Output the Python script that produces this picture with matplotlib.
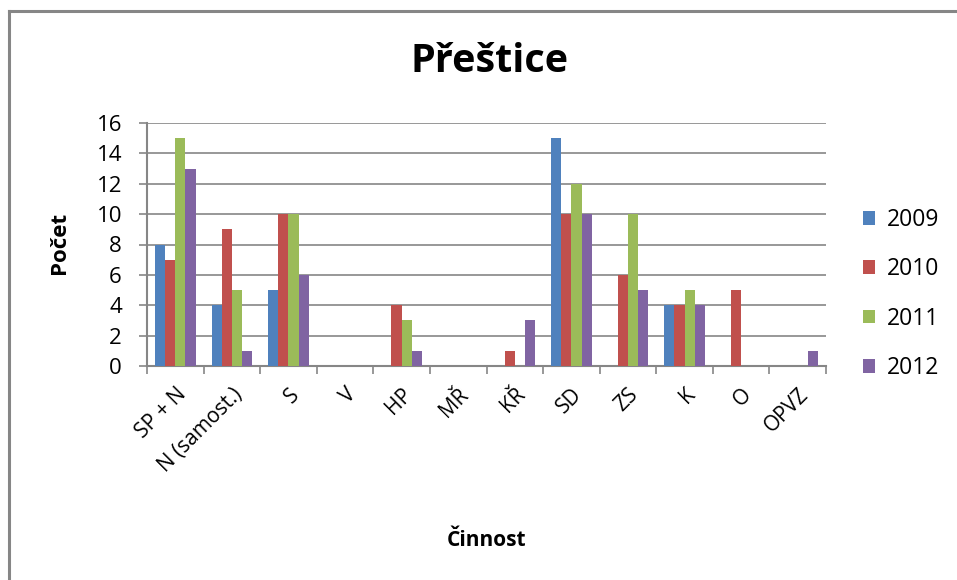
import matplotlib
matplotlib.use("Agg")
import matplotlib.pyplot as plt
import numpy as np
from matplotlib.lines import Line2D

plt.rcParams['font.family'] = ['Open Sans', 'DejaVu Sans']

categories = ["SP + N", "N (samost.)", "S", "V", "HP", "MŘ", "KŘ", "SD", "ZS", "K", "O", "OPVZ"]
years = ["2009", "2010", "2011", "2012"]
v2009 = [8, 4, 5, 0, 0, 0, 0, 15, 0, 4, 0, 0]
v2010 = [7, 9, 10, 0, 4, 0, 1, 10, 6, 4, 5, 0]
v2011 = [15, 5, 10, 0, 3, 0, 0, 12, 10, 5, 0, 0]
v2012 = [13, 1, 6, 0, 1, 0, 3, 10, 5, 4, 0, 1]
series = [v2009, v2010, v2011, v2012]
colors = ["#4F81BD", "#C0504D", "#9BBB59", "#8064A2"]

fig = plt.figure(figsize=(9.57, 5.8), dpi=100)
ax = fig.add_axes([147/957, 1-366/580, (826-147)/957, (366-123)/580])

x = np.arange(len(categories))
w = 0.18
for i, (vals, c, lab) in enumerate(zip(series, colors, years)):
    ax.bar(x + (i - 1.5) * w, vals, width=w, color=c, label=lab, zorder=3)

ax.set_xlim(-0.5, len(categories) - 0.5)
ax.set_ylim(0, 16)
ax.set_yticks(np.arange(0, 17, 2))
ax.yaxis.grid(True, color="#868686", linewidth=1.2, zorder=0)
ax.set_xticks(np.arange(-0.5, len(categories), 1.0))
ax.set_xticklabels([])
ax.set_xticks(x, minor=True)
ax.set_xticklabels(categories, minor=True, rotation=45, ha='right', rotation_mode='anchor', fontsize=15)
ax.tick_params(axis='x', which='minor', length=0, pad=13)
ax.tick_params(axis='x', which='major', length=6, color="#868686", width=1.2)
ax.tick_params(axis='y', length=6, color="#868686", width=1.2, labelsize=16, pad=12)
for s in ["top", "right"]:
    ax.spines[s].set_visible(False)
for s in ["left", "bottom"]:
    ax.spines[s].set_color("#868686")
    ax.spines[s].set_linewidth(1.5)

fig.text(60/957, 1-243/580, "Počet", fontsize=16, fontweight='bold', ha='center', va='center', rotation=90)
fig.text(487/957, 1-540/580, "Činnost", fontsize=15, fontweight='bold', ha='center', va='center')
fig.text(490/957, 1-62/580, "Přeštice", fontsize=28.5, fontweight='bold', ha='center', va='center')

leg = ax.legend(loc='center left', bbox_to_anchor=(842/957, 1-294/580), bbox_transform=fig.transFigure,
                frameon=False, fontsize=16.5, handlelength=0.55, handleheight=0.55,
                labelspacing=1.1, handletextpad=0.5)

fig.add_artist(Line2D([9/957, 9/957], [0, 1-11/580], transform=fig.transFigure, color="#868686", linewidth=2.2))
fig.add_artist(Line2D([9/957, 1], [1-11/580, 1-11/580], transform=fig.transFigure, color="#868686", linewidth=2.2))

fig.savefig("out.png", dpi=100)
